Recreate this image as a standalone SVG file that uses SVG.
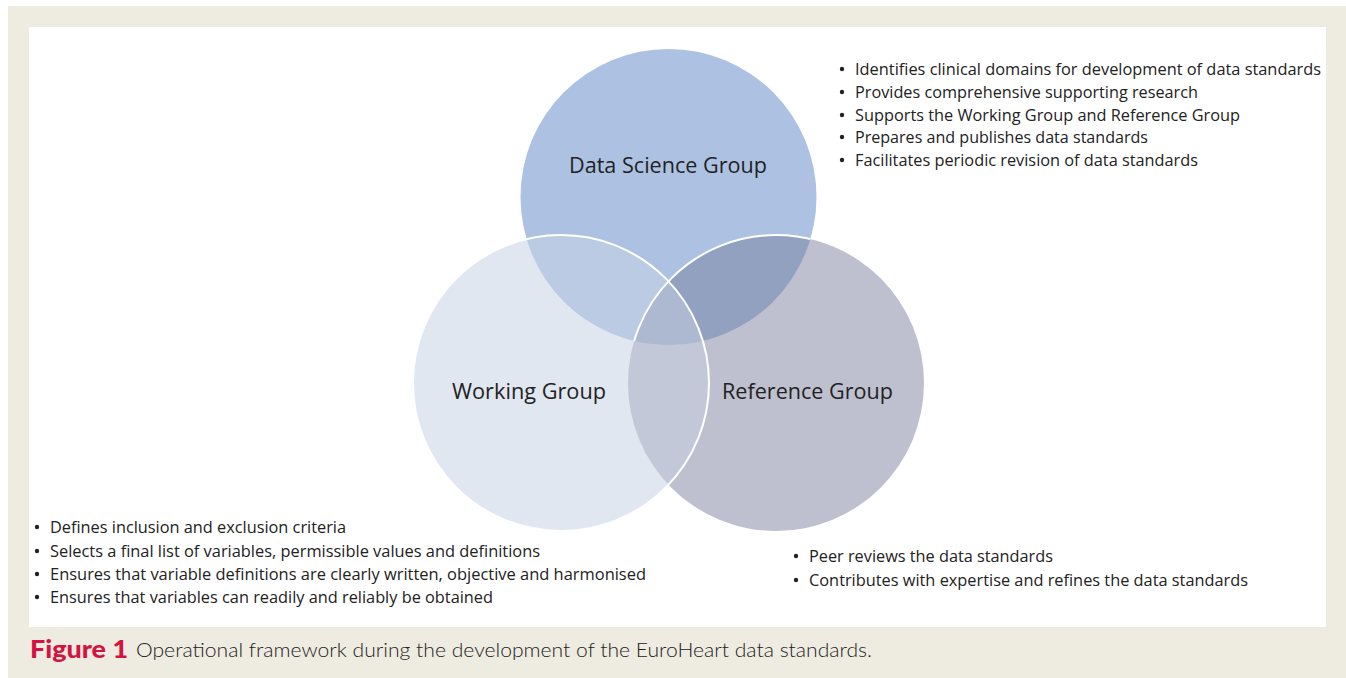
<svg xmlns="http://www.w3.org/2000/svg" width="1346" height="678" viewBox="0 0 1346 678">
<defs>
<style>
.t{font-family:"Open Sans","Liberation Sans",sans-serif;font-size:16px;fill:#222;}
.lbl{font-family:"Open Sans","Liberation Sans",sans-serif;font-size:21px;fill:#222;text-anchor:middle;}
.cap{font-family:Lato,"Liberation Sans",sans-serif;font-size:20px;fill:#222;}
.fig{font-family:Lato,"Liberation Sans",sans-serif;font-size:24px;font-weight:900;fill:#d31340;}
.b{fill:#222;}
</style>
<clipPath id="cDS"><circle cx="668.5" cy="197" r="148"/></clipPath>
<clipPath id="cW"><circle cx="561" cy="383" r="148"/></clipPath>
<clipPath id="cR"><circle cx="776" cy="383" r="148"/></clipPath>
</defs>
<rect x="0" y="0" width="1346" height="678" fill="#ffffff"/>
<rect x="8" y="6" width="1338" height="672" fill="#eeebe1"/>
<rect x="29" y="27" width="1297" height="600" fill="#ffffff"/>

<g id="venn-fills">
<circle cx="668.5" cy="197" r="148" fill="#adc2e3"/>
<circle cx="776" cy="383" r="148" fill="#bfc0cf"/>
<circle cx="561" cy="383" r="148" fill="#e1e7f0"/>
<circle cx="668.5" cy="197" r="148" fill="#bacbe3" clip-path="url(#cW)"/>
<circle cx="668.5" cy="197" r="148" fill="#93a1c1" clip-path="url(#cR)"/>
<circle cx="561" cy="383" r="148" fill="#c3c8d8" clip-path="url(#cR)"/>
<g clip-path="url(#cW)"><circle cx="668.5" cy="197" r="148" fill="#adb8d1" clip-path="url(#cR)"/></g>
</g>

<g id="connectors">
<circle cx="776" cy="383" r="148" fill="none" stroke="#ffffff" stroke-width="2" clip-path="url(#cDS)"/>
<circle cx="561" cy="383" r="148" fill="none" stroke="#ffffff" stroke-width="2"/>
</g>

<g id="data-science-group">
<text class="lbl" x="668" y="173" textLength="198" lengthAdjust="spacingAndGlyphs">Data Science Group</text>
</g>
<g id="working-group">
<text class="lbl" x="529" y="399" textLength="154" lengthAdjust="spacingAndGlyphs">Working Group</text>
</g>
<g id="reference-group">
<text class="lbl" x="807.5" y="399" textLength="171" lengthAdjust="spacingAndGlyphs">Reference Group</text>
</g>

<g id="data-science-notes">
<circle class="b" cx="842" cy="69" r="2.2"/>
<circle class="b" cx="842" cy="92" r="2.2"/>
<circle class="b" cx="842" cy="115" r="2.2"/>
<circle class="b" cx="842" cy="137" r="2.2"/>
<circle class="b" cx="842" cy="160" r="2.2"/>
<text class="t" x="855" y="75" textLength="466" lengthAdjust="spacingAndGlyphs">Identifies clinical domains for development of data standards</text>
<text class="t" x="855" y="98" textLength="343" lengthAdjust="spacingAndGlyphs">Provides comprehensive supporting research</text>
<text class="t" x="855" y="121" textLength="385" lengthAdjust="spacingAndGlyphs">Supports the Working Group and Reference Group</text>
<text class="t" x="855" y="143" textLength="293" lengthAdjust="spacingAndGlyphs">Prepares and publishes data standards</text>
<text class="t" x="855" y="166" textLength="343" lengthAdjust="spacingAndGlyphs">Facilitates periodic revision of data standards</text>
</g>

<g id="working-group-notes">
<circle class="b" cx="37" cy="527" r="2.2"/>
<circle class="b" cx="37" cy="551" r="2.2"/>
<circle class="b" cx="37" cy="574" r="2.2"/>
<circle class="b" cx="37" cy="597" r="2.2"/>
<text class="t" x="50" y="533" textLength="296" lengthAdjust="spacingAndGlyphs">Defines inclusion and exclusion criteria</text>
<text class="t" x="50" y="557" textLength="490" lengthAdjust="spacingAndGlyphs">Selects a final list of variables, permissible values and definitions</text>
<text class="t" x="50" y="580" textLength="596" lengthAdjust="spacingAndGlyphs">Ensures that variable definitions are clearly written, objective and harmonised</text>
<text class="t" x="50" y="603" textLength="443" lengthAdjust="spacingAndGlyphs">Ensures that variables can readily and reliably be obtained</text>
</g>

<g id="reference-group-notes">
<circle class="b" cx="796" cy="556" r="2.2"/>
<circle class="b" cx="796" cy="580" r="2.2"/>
<text class="t" x="809" y="562" textLength="244" lengthAdjust="spacingAndGlyphs">Peer reviews the data standards</text>
<text class="t" x="809" y="586" textLength="439" lengthAdjust="spacingAndGlyphs">Contributes with expertise and refines the data standards</text>
</g>

<g id="caption">
<text class="fig" x="30" y="658" textLength="98" lengthAdjust="spacingAndGlyphs">Figure 1</text>
<text class="cap" x="136" y="657" textLength="736" lengthAdjust="spacingAndGlyphs" font-weight="300">Operational framework during the development of the EuroHeart data standards.</text>
</g>
</svg>
